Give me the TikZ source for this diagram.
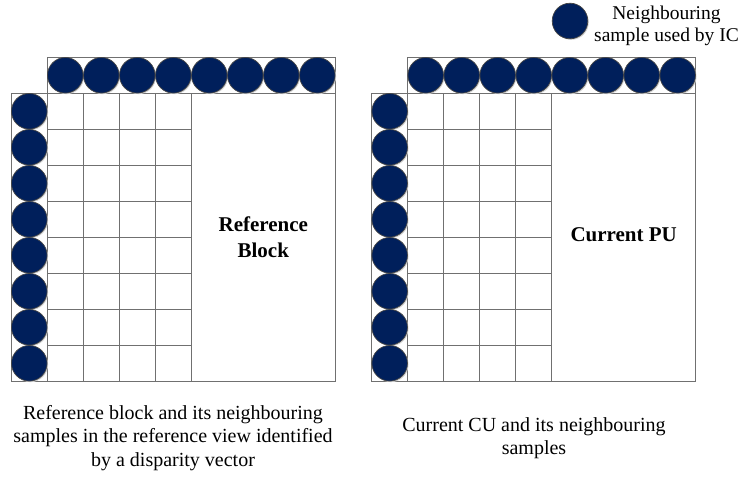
\documentclass[tikz,border=0pt]{standalone}
\usepackage{fontspec}
\setmainfont{Liberation Serif}
\definecolor{navy}{RGB}{0,31,91}
\definecolor{gridgray}{RGB}{112,112,112}
\definecolor{rimgray}{RGB}{70,70,70}
\newcommand\myblock[2]{%
  \draw[boxline] (#1,57.3) rectangle (#1+288,93.3);
  \draw[boxline] (#1-36,93.3) rectangle (#1,381.3);
  \draw[boxline] (#1,93.3) rectangle (#1+288,381.3);
  \foreach \i in {1,...,4} {\draw[boxline] (#1+36*\i,93.3) -- (#1+36*\i,381.3);}
  \foreach \j in {1,...,7} {\draw[boxline] (#1,93.3+36*\j) -- (#1+144,93.3+36*\j);}
  \foreach \i in {0,...,7} {
    \fill[black!18] (#1+19.2+36*\i,76.5) circle (17.6);
    \node[sample] (#2t\i) at (#1+18+36*\i,75.3) {};
  }
  \foreach \j in {0,...,7} {
    \fill[black!18] (#1-16.8,112.5+36*\j) circle (17.6);
    \node[sample] (#2l\j) at (#1-18,111.3+36*\j) {};
  }
}
\begin{document}
\begin{tikzpicture}[x=1pt,y=-1pt,
  sample/.style={circle, fill=navy, draw=rimgray, line width=0.7pt, minimum size=35.6pt, inner sep=0pt},
  boxline/.style={draw=gridgray, line width=1pt},
  biglabel/.style={font=\fontsize{21}{26}\selectfont\bfseries, align=center, inner sep=0pt},
  caption/.style={font=\fontsize{20}{23.4}\selectfont, align=center, inner sep=0pt},
  legendtext/.style={font=\fontsize{19.5}{21.7}\selectfont, align=center, inner sep=0pt}]
\useasboundingbox (0,0) rectangle (742,479);
\fill[white] (0,0) rectangle (742,479);

\myblock{47.3}{r}
\myblock{407.7}{c}

\node[biglabel] (reflabel) at (263.3,237) {Reference\\Block};
\node[biglabel] (curlabel) at (623.7,235) {Current PU};

\node[caption] (refcap) at (173,438) {Reference block and its neighbouring\\samples in the reference view identified\\by a disparity vector};
\node[caption] (curcap) at (534,438) {Current CU and its neighbouring\\samples};

\fill[black!18] (571.2,22.2) circle (17.6);
\node[sample] (legcirc) at (570,21) {};
\node[legendtext] (legtext) at (666.5,26) {Neighbouring\\sample used by IC};
\end{tikzpicture}
\end{document}
